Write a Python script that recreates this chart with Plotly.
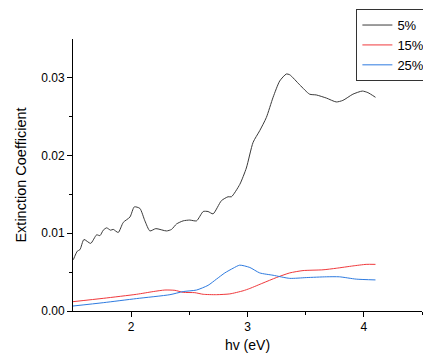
import plotly.graph_objects as go

# --- data ---
x_5 = [1.503, 1.537, 1.56, 1.594, 1.652, 1.703, 1.732, 1.76, 1.789, 1.823, 1.846, 1.889, 1.932, 1.99,
       2.027, 2.075, 2.118, 2.161, 2.212, 2.304, 2.347, 2.39, 2.447, 2.504, 2.562, 2.619, 2.661, 2.704,
       2.776, 2.833, 2.862, 2.934, 2.99, 3.048, 3.105, 3.162, 3.22, 3.277, 3.334, 3.363, 3.449, 3.534,
       3.591, 3.678, 3.763, 3.82, 3.906, 3.987, 4.035, 4.1]
y_5 = [0.0066, 0.0077, 0.0079, 0.0092, 0.0087, 0.0098, 0.0097, 0.0104, 0.0107, 0.0104, 0.0105, 0.0101,
       0.0114, 0.0121, 0.0134, 0.0132, 0.0116, 0.0103, 0.0106, 0.0103, 0.0105, 0.0112, 0.0116, 0.0117,
       0.0116, 0.0128, 0.0128, 0.0125, 0.0142, 0.0147, 0.0147, 0.0163, 0.0184, 0.0217, 0.0232, 0.0249,
       0.0275, 0.0296, 0.0305, 0.0304, 0.0291, 0.0279, 0.0278, 0.0274, 0.0269, 0.0271, 0.0279, 0.0283,
       0.0281, 0.0275]

x_15 = [1.5, 1.76, 2.047, 2.19, 2.29, 2.376, 2.447, 2.547, 2.619, 2.733, 2.848, 2.962, 3.02, 3.133,
        3.248, 3.363, 3.477, 3.649, 3.763, 3.906, 4.02, 4.1]
y_15 = [0.0012, 0.00163, 0.00215, 0.0025, 0.0027, 0.00266, 0.0024, 0.00236, 0.00215, 0.0021, 0.0022,
        0.0026, 0.0029, 0.0036, 0.0043, 0.0049, 0.0052, 0.0053, 0.0055, 0.0058, 0.0060, 0.0060]

x_25 = [1.5, 1.76, 2.047, 2.333, 2.447, 2.562, 2.661, 2.733, 2.805, 2.876, 2.933, 3.02, 3.105, 3.22,
        3.363, 3.506, 3.678, 3.79, 3.935, 4.1]
y_25 = [0.00064, 0.00107, 0.0016, 0.0021, 0.0025, 0.0027, 0.0033, 0.0041, 0.0049, 0.0055, 0.0059,
        0.0056, 0.0049, 0.0046, 0.0042, 0.0043, 0.0044, 0.0044, 0.0041, 0.0040]

x_ticks = [2, 3, 4]
y_ticks = [0, 0.01, 0.02, 0.03]
y_ticktext = ["0.00", "0.01", "0.02", "0.03"]

series = [("5%", x_5, y_5, "#3a3a3a"), ("15%", x_15, y_15, "#f0393c"), ("25%", x_25, y_25, "#2e7be0")]

FONT = "Liberation Sans, Arial"

fig = go.Figure()
for name, xs, ys, col in series:
    fig.add_trace(go.Scatter(x=xs, y=ys, mode="lines", name=name,
                             line=dict(color=col, width=1, shape="spline", smoothing=0.6)))

axis_common = dict(showgrid=False, zeroline=False, showline=True, linecolor="black", linewidth=1,
                   ticks="outside", ticklen=5, tickcolor="black", tickwidth=1, automargin=False,
                   tickfont=dict(family=FONT, size=12, color="black"))

fig.update_xaxes(range=[1.5, 4.5], tickvals=x_ticks, ticktext=[str(v) for v in x_ticks],
                 title=dict(text="hv (eV)", font=dict(family=FONT, size=14, color="black"), standoff=6),
                 minor=dict(ticks="outside", ticklen=3, tickcolor="black", tickvals=[2.5, 3.5, 4.5]),
                 **axis_common)
fig.update_yaxes(range=[0, 0.035], tickvals=y_ticks, ticktext=y_ticktext,
                 title=dict(text="Extinction Coefficient", font=dict(family=FONT, size=14.5, color="black"), standoff=11),
                 minor=dict(ticks="outside", ticklen=3, tickcolor="black", tickvals=[0.005, 0.015, 0.025]),
                 **axis_common)

# the page body has an 8px default margin, so the figure is sized/offset to compensate
fig.update_layout(
    width=423, height=348,
    margin=dict(l=65, r=9, t=31, b=45, autoexpand=False),
    plot_bgcolor="white", paper_bgcolor="white",
    font=dict(family=FONT, color="black"),
    legend=dict(x=0.812, y=1.11, xanchor="left", yanchor="top",
                bordercolor="#333333", borderwidth=1, bgcolor="white",
                font=dict(size=13, family=FONT),
                tracegroupgap=0, itemwidth=30),
    showlegend=True,
)

fig.write_html("out.html")
